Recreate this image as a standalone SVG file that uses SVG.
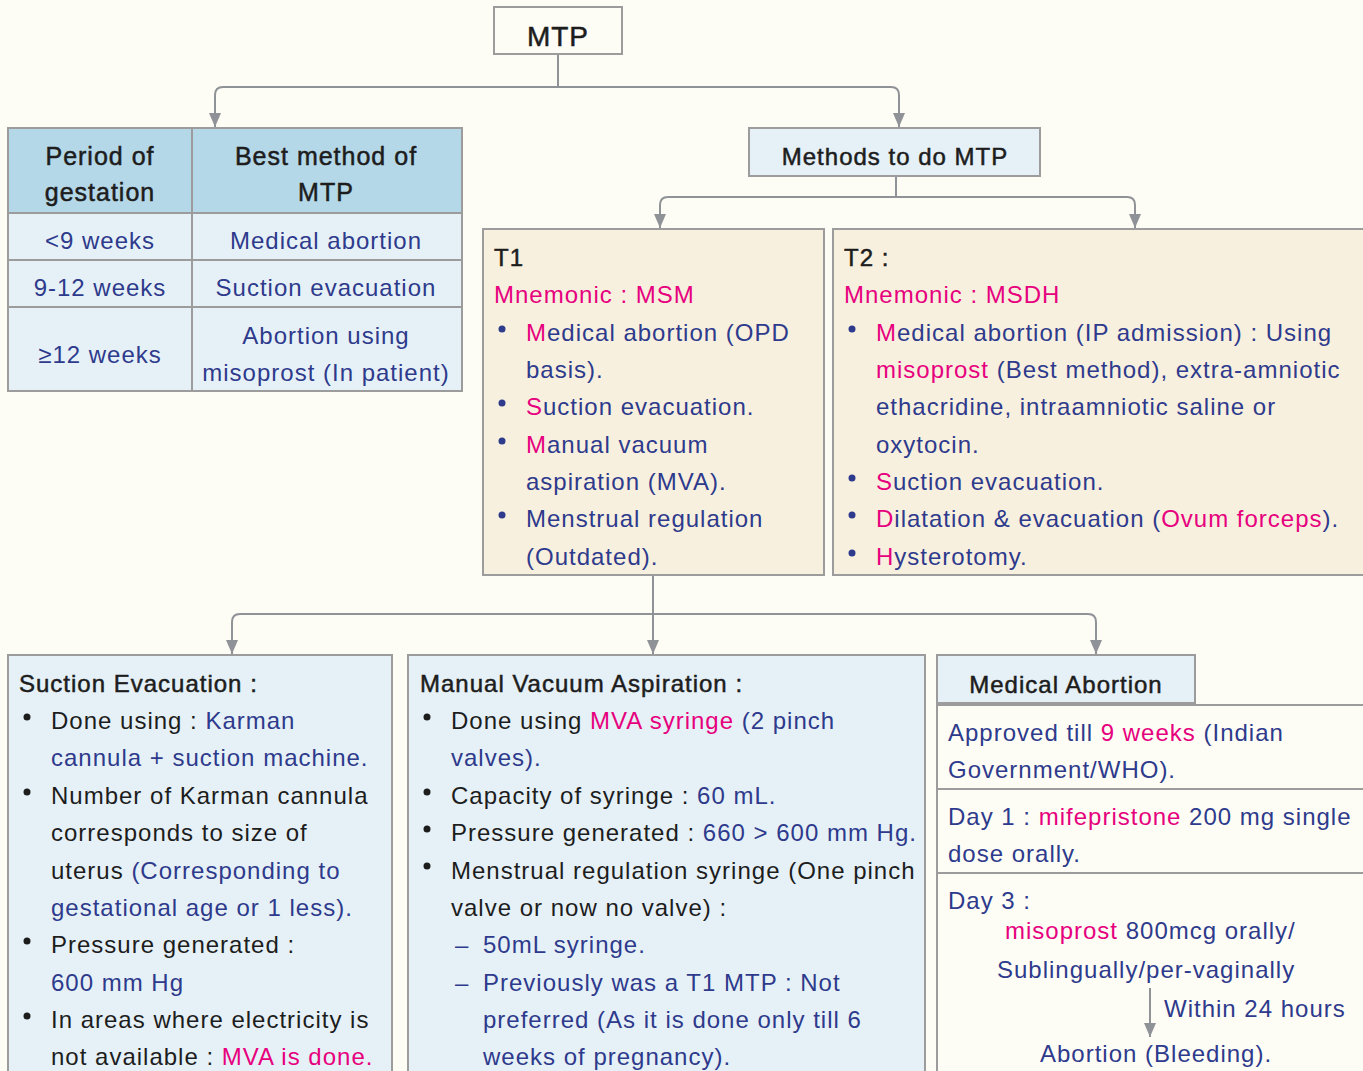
<svg xmlns="http://www.w3.org/2000/svg" width="1363" height="1071" viewBox="0 0 1363 1071">
<defs>
<marker id="ah" markerUnits="userSpaceOnUse" markerWidth="14" markerHeight="12" refX="14" refY="6" orient="auto">
<path d="M0,0 L14,6 L0,12 z" fill="#8f9296"/>
</marker>
<style>
text{font-family:"Liberation Sans",Arial,sans-serif;font-size:24px;letter-spacing:1px;fill:#2e3a8c}
.k{fill:#1d1d1d}
.h{fill:#1d1d1d;stroke:#1d1d1d;stroke-width:0.5}
.p{fill:#e6007e}
.b{fill:#2e3a8c}
.c{text-anchor:middle}
.box{stroke:#9c9c9c;stroke-width:2}
.lb{fill:#e6f1f7}
.hd{fill:#b5d8e8}
.bg{fill:#fdfdf5}
.be{fill:#f8f0df}
.con{fill:none;stroke:#8f9296;stroke-width:2}
.db{fill:#2e3a8c}
.dk{fill:#1d1d1d}
</style>
</defs>
<rect width="1363" height="1071" class="bg"/>

<g id="connectors">
<path class="con" d="M558,55 V87"/>
<path class="con" d="M558,87 H223 Q215,87 215,95 V127" marker-end="url(#ah)"/>
<path class="con" d="M558,87 H891 Q899,87 899,95 V127" marker-end="url(#ah)"/>
<path class="con" d="M896,177 V197"/>
<path class="con" d="M896,197 H668 Q660,197 660,205 V228" marker-end="url(#ah)"/>
<path class="con" d="M896,197 H1127 Q1135,197 1135,205 V228" marker-end="url(#ah)"/>
<path class="con" d="M653,576 V654" marker-end="url(#ah)"/>
<path class="con" d="M653,614 H240 Q232,614 232,622 V654" marker-end="url(#ah)"/>
<path class="con" d="M653,614 H1088 Q1096,614 1096,622 V654" marker-end="url(#ah)"/>
</g>

<g id="mtp">
<rect x="494" y="7" width="128" height="47" class="box bg"/>
<text x="558" y="46" class="h c" style="font-size:28px">MTP</text>
</g>

<g id="table">
<rect x="8" y="128" width="454" height="85" class="box hd"/>
<rect x="8" y="213" width="454" height="47" class="box lb"/>
<rect x="8" y="260" width="454" height="47" class="box lb"/>
<rect x="8" y="307" width="454" height="84" class="box lb"/>
<line x1="192" y1="128" x2="192" y2="391" class="box"/>
<text x="100" y="165" class="h c" style="font-size:25px">Period of</text>
<text x="100" y="201" class="h c" style="font-size:25px">gestation</text>
<text x="326" y="165" class="h c" style="font-size:25px">Best method of</text>
<text x="326" y="201" class="h c" style="font-size:25px">MTP</text>
<text x="100" y="249" class="c">&lt;9 weeks</text>
<text x="326" y="249" class="c">Medical abortion</text>
<text x="100" y="296" class="c">9-12 weeks</text>
<text x="326" y="296" class="c">Suction evacuation</text>
<text x="100" y="363" class="c">≥12 weeks</text>
<text x="326" y="344" class="c">Abortion using</text>
<text x="326" y="381" class="c">misoprost (In patient)</text>
</g>

<g id="methods">
<rect x="749" y="128" width="291" height="48" class="box lb"/>
<text x="895" y="165" class="h c">Methods to do MTP</text>
</g>

<g id="t1">
<rect x="483" y="229" width="341" height="346" class="box be"/>
<text x="494" y="266" class="h">T1</text>
<text x="494" y="303" class="p">Mnemonic : MSM</text>
<circle cx="502" cy="329" r="3.5" class="db"/>
<circle cx="502" cy="403" r="3.5" class="db"/>
<circle cx="502" cy="441" r="3.5" class="db"/>
<circle cx="502" cy="515" r="3.5" class="db"/>
<text x="526" y="341"><tspan class="p">M</tspan>edical abortion (OPD</text>
<text x="526" y="378">basis).</text>
<text x="526" y="415"><tspan class="p">S</tspan>uction evacuation.</text>
<text x="526" y="453"><tspan class="p">M</tspan>anual vacuum</text>
<text x="526" y="490">aspiration (MVA).</text>
<text x="526" y="527">Menstrual regulation</text>
<text x="526" y="565">(Outdated).</text>
</g>

<g id="t2">
<rect x="833" y="229" width="540" height="346" class="box be"/>
<text x="844" y="266" class="h">T2 :</text>
<text x="844" y="303" class="p">Mnemonic : MSDH</text>
<circle cx="852" cy="329" r="3.5" class="db"/>
<circle cx="852" cy="478" r="3.5" class="db"/>
<circle cx="852" cy="515" r="3.5" class="db"/>
<circle cx="852" cy="553" r="3.5" class="db"/>
<text x="876" y="341"><tspan class="p">M</tspan>edical abortion (IP admission) : Using</text>
<text x="876" y="378"><tspan class="p">misoprost</tspan> (Best method), extra-amniotic</text>
<text x="876" y="415">ethacridine, intraamniotic saline or</text>
<text x="876" y="453">oxytocin.</text>
<text x="876" y="490"><tspan class="p">S</tspan>uction evacuation.</text>
<text x="876" y="527"><tspan class="p">D</tspan>ilatation &amp; evacuation (<tspan class="p">Ovum forceps</tspan>).</text>
<text x="876" y="565"><tspan class="p">H</tspan>ysterotomy.</text>
</g>

<g id="suction">
<rect x="8" y="655" width="384" height="430" class="box lb"/>
<text x="19" y="692" class="h">Suction Evacuation :</text>
<circle cx="27" cy="717" r="3.5" class="dk"/>
<circle cx="27" cy="792" r="3.5" class="dk"/>
<circle cx="27" cy="941" r="3.5" class="dk"/>
<circle cx="27" cy="1016" r="3.5" class="dk"/>
<text x="51" y="729" class="k">Done using : <tspan class="b">Karman</tspan></text>
<text x="51" y="766">cannula + suction machine.</text>
<text x="51" y="804" class="k">Number of Karman cannula</text>
<text x="51" y="841" class="k">corresponds to size of</text>
<text x="51" y="879" class="k">uterus <tspan class="b">(Corresponding to</tspan></text>
<text x="51" y="916">gestational age or 1 less).</text>
<text x="51" y="953" class="k">Pressure generated :</text>
<text x="51" y="991">600 mm Hg</text>
<text x="51" y="1028" class="k">In areas where electricity is</text>
<text x="51" y="1065" class="k">not available : <tspan class="p">MVA is done.</tspan></text>
</g>

<g id="mva">
<rect x="408" y="655" width="517" height="430" class="box lb"/>
<text x="420" y="692" class="h">Manual Vacuum Aspiration :</text>
<circle cx="427" cy="717" r="3.5" class="dk"/>
<circle cx="427" cy="792" r="3.5" class="dk"/>
<circle cx="427" cy="829" r="3.5" class="dk"/>
<circle cx="427" cy="866" r="3.5" class="dk"/>
<text x="451" y="729" class="k">Done using <tspan class="p">MVA syringe</tspan> <tspan class="b">(2 pinch</tspan></text>
<text x="451" y="766">valves).</text>
<text x="451" y="804" class="k">Capacity of syringe : <tspan class="b">60 mL.</tspan></text>
<text x="451" y="841" class="k">Pressure generated : <tspan class="b">660 &gt; 600 mm Hg.</tspan></text>
<text x="451" y="879" class="k">Menstrual regulation syringe (One pinch</text>
<text x="451" y="916" class="k">valve or now no valve) :</text>
<text x="455" y="953">–</text>
<text x="483" y="953">50mL syringe.</text>
<text x="455" y="991">–</text>
<text x="483" y="991">Previously was a T1 MTP : Not</text>
<text x="483" y="1028">preferred (As it is done only till 6</text>
<text x="483" y="1065">weeks of pregnancy).</text>
</g>

<g id="medical-abortion">
<rect x="937" y="655" width="258" height="48" class="box lb"/>
<text x="1066" y="693" class="h c">Medical Abortion</text>
<rect x="937" y="705" width="440" height="84" class="box bg"/>
<rect x="937" y="789" width="440" height="84" class="box bg"/>
<rect x="937" y="873" width="440" height="210" class="box bg"/>
<text x="948" y="741">Approved till <tspan class="p">9 weeks</tspan> (Indian</text>
<text x="948" y="778">Government/WHO).</text>
<text x="948" y="825">Day 1 : <tspan class="p">mifepristone</tspan> 200 mg single</text>
<text x="948" y="862">dose orally.</text>
<text x="948" y="909">Day 3 :</text>
<text x="1005" y="939"><tspan class="p">misoprost</tspan> 800mcg orally/</text>
<text x="997" y="978">Sublingually/per-vaginally</text>
<path class="con" d="M1150,988 V1037" marker-end="url(#ah)"/>
<text x="1164" y="1017">Within 24 hours</text>
<text x="1040" y="1062">Abortion (Bleeding).</text>
</g>
</svg>
